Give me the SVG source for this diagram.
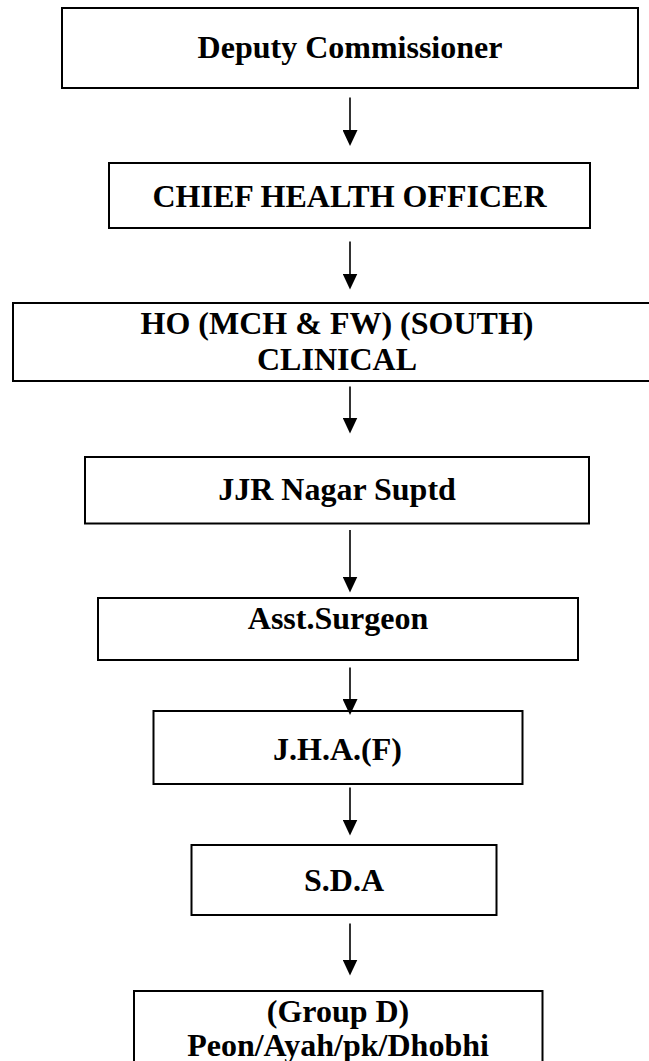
<svg xmlns="http://www.w3.org/2000/svg" width="649" height="1061" viewBox="0 0 649 1061">
  <style>
    .box { fill: #ffffff; stroke: #000000; stroke-width: 2; }
    .lbl { font-family: "Liberation Serif", "Times New Roman", serif; font-weight: bold; font-size: 32px; fill: #000000; text-anchor: middle; }
    .conn { stroke: #000000; stroke-width: 1.6; fill: none; marker-end: url(#arrow); }
  </style>
  <defs>
    <marker id="arrow" viewBox="0 0 16 15" refX="6" refY="7.5" markerWidth="16" markerHeight="15" markerUnits="userSpaceOnUse" orient="auto">
      <path d="M0,0 L16,7.5 L0,15 z" fill="#000000"/>
    </marker>
  </defs>
  <rect width="649" height="1061" fill="#ffffff"/>

  <g id="node-deputy-commissioner">
    <rect class="box" x="62" y="8" width="576" height="80"/>
    <text class="lbl" x="350" y="58">Deputy Commissioner</text>
  </g>
  <g id="node-chief-health-officer">
    <rect class="box" x="109" y="163" width="481" height="65"/>
    <text class="lbl" x="349.5" y="206.5">CHIEF HEALTH OFFICER</text>
  </g>
  <g id="node-ho-mch-fw">
    <rect class="box" x="13" y="303" width="650" height="78"/>
    <text class="lbl" x="337" y="333.5">HO (MCH &amp; FW) (SOUTH)</text>
    <text class="lbl" x="337" y="370">CLINICAL</text>
  </g>
  <g id="node-jjr-nagar-suptd">
    <rect class="box" x="85" y="457" width="504" height="66.5"/>
    <text class="lbl" x="337" y="500">JJR Nagar Suptd</text>
  </g>
  <g id="node-asst-surgeon">
    <rect class="box" x="98" y="598" width="480" height="62"/>
    <text class="lbl" x="338" y="628.5">Asst.Surgeon</text>
  </g>
  <g id="node-jha-f">
    <rect class="box" x="153.5" y="711" width="369" height="73"/>
    <text class="lbl" x="337.5" y="760">J.H.A.(F)</text>
  </g>
  <g id="node-sda">
    <rect class="box" x="191.5" y="845" width="305" height="70"/>
    <text class="lbl" x="344" y="891">S.D.A</text>
  </g>
  <g id="node-group-d">
    <rect class="box" x="134" y="991" width="408.5" height="100"/>
    <text class="lbl" x="338" y="1022">(Group D)</text>
    <text class="lbl" x="338" y="1056">Peon/Ayah/pk/Dhobhi</text>
  </g>

  <g id="connectors">
    <line class="conn" x1="350" y1="97.5" x2="350" y2="136"/>
    <line class="conn" x1="350" y1="241.5" x2="350" y2="279.5"/>
    <line class="conn" x1="350" y1="386.5" x2="350" y2="423.5"/>
    <line class="conn" x1="350" y1="530" x2="350" y2="582.5"/>
    <line class="conn" x1="350" y1="667.5" x2="350" y2="705"/>
    <line class="conn" x1="350" y1="787.5" x2="350" y2="825.5"/>
    <line class="conn" x1="350" y1="923.5" x2="350" y2="965.5"/>
  </g>
</svg>
